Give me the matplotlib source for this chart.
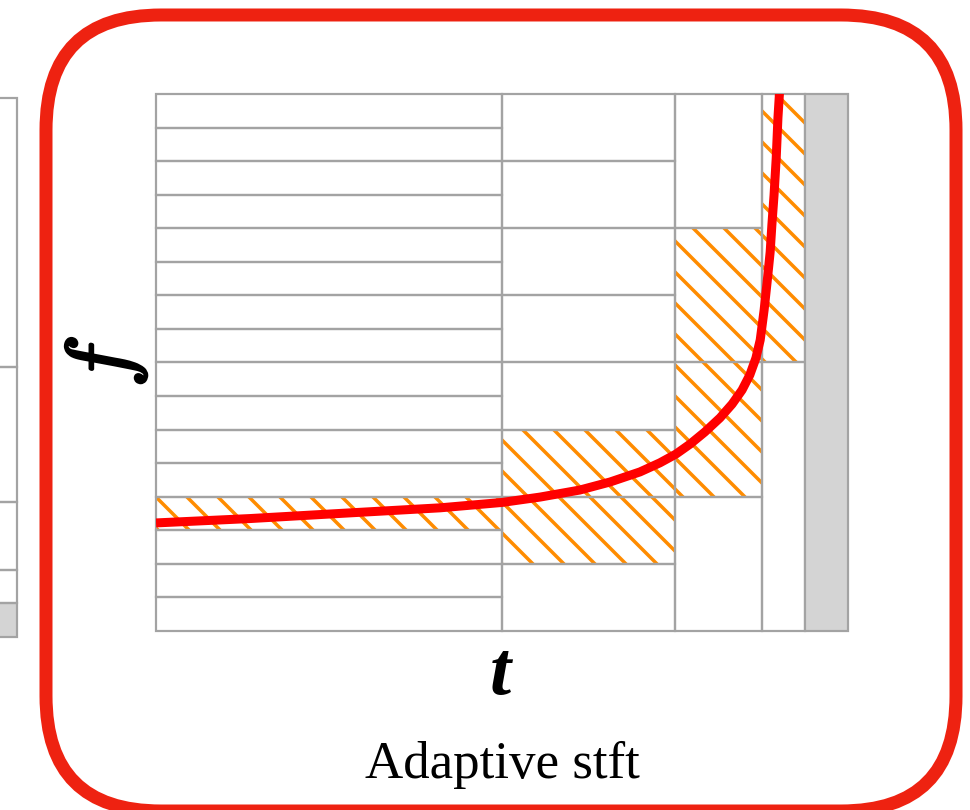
import matplotlib
matplotlib.use("Agg")
import matplotlib.pyplot as plt
import matplotlib.patheffects as pe
from matplotlib.patches import Rectangle, FancyBboxPatch

# ---- time-frequency tiling of the adaptive STFT ----
col_edges = [0, 8, 12, 14, 15]        # window boundaries along t
bands_per_col = [16, 8, 4, 2]         # frequency bands in each window
spare_col = (15, 16)                  # unused (greyed) column
f_max = 16
# tiles crossed by the chirp: column index -> band indices
hit_cells = {0: [3], 1: [1, 2], 2: [1, 2], 3: [1]}

# instantaneous frequency of the chirp
chirp_t = [0.0, 2.17, 4.49, 6.57, 8.0, 8.88, 9.8, 10.5, 11.19, 11.65, 12.02,
           12.35, 12.69, 13.04, 13.32, 13.55, 13.73, 13.87, 13.97, 14.06,
           14.13, 14.2, 14.24, 14.29, 14.34, 14.38, 14.42]
chirp_f = [3.22, 3.35, 3.52, 3.67, 3.83, 3.99, 4.2, 4.44, 4.74, 5.01, 5.27,
           5.57, 5.93, 6.35, 6.76, 7.18, 7.63, 8.13, 8.67, 9.56,
           10.4, 11.29, 12.1, 12.99, 14.09, 15.29, 16.12]

# dyadic bands of the neighbouring panel (partly off the page)
nb_band_edges = [0, 1, 2, 4, 8, 16]

# ---- styling ----
DPI = 186
W, H = 970, 810
plt.rcParams["mathtext.fontset"] = "cm"


def pt(px):
    return px * 72.0 / DPI


plt.rcParams["hatch.linewidth"] = pt(3.5)

GRID = "#a3a3a3"
ORANGE = "#ff8c00"
SPARE = "#d4d4d4"
FRAME = "#ee2211"

fig = plt.figure(figsize=((W + 0.01) / DPI, (H + 0.01) / DPI), dpi=DPI)
fig.patch.set_facecolor("white")


def frac(x0, y0, x1, y1):
    return [x0 / W, (H - y1) / H, (x1 - x0) / W, (y1 - y0) / H]


# main tiling
ax = fig.add_axes(frac(156, 94, 848, 631))
ax.set_xlim(0, 16)
ax.set_ylim(0, f_max)
ax.axis("off")

for k, n in enumerate(bands_per_col):
    t0, t1 = col_edges[k], col_edges[k + 1]
    h = f_max / n
    for j in range(n):
        if j in hit_cells.get(k, []):
            ax.add_patch(Rectangle((t0, j * h), t1 - t0, h, facecolor="none",
                                   edgecolor=ORANGE, linewidth=0, hatch="\\\\",
                                   zorder=1))
        ax.add_patch(Rectangle((t0, j * h), t1 - t0, h, facecolor="none",
                               edgecolor=GRID, linewidth=pt(2.2),
                               clip_on=False, zorder=2))

ax.add_patch(Rectangle((spare_col[0], 0), spare_col[1] - spare_col[0], f_max,
                       facecolor=SPARE, edgecolor=GRID, linewidth=pt(2.2),
                       clip_on=False, zorder=2))

ax.plot(chirp_t, chirp_f, color="#ff0000", linewidth=pt(9),
        solid_capstyle="butt", solid_joinstyle="round", zorder=3)

# neighbouring panel, cut by the page edge
axl = fig.add_axes(frac(-400, 98, 17, 637))
axl.set_xlim(0, 16)
axl.set_ylim(0, f_max)
axl.axis("off")
for lo, hi in zip(nb_band_edges[:-1], nb_band_edges[1:]):
    axl.add_patch(Rectangle((0, lo), 16, hi - lo,
                            facecolor=SPARE if lo == 0 else "none",
                            edgecolor=GRID, linewidth=pt(2.2), clip_on=False))

# rounded red frame
bg = fig.add_axes([0, 0, 1, 1], zorder=-1)
bg.set_xlim(0, W)
bg.set_ylim(H, 0)
bg.set_aspect("equal")
bg.axis("off")
bg.add_patch(FancyBboxPatch((46, 15), 956 - 46, 811 - 15,
                            boxstyle="round,pad=0,rounding_size=115",
                            facecolor="none", edgecolor=FRAME,
                            linewidth=pt(13)))

# labels
fig.text(106 / W, 1 - 362 / H, r"$f$", fontsize=pt(90), rotation=90,
         ha="center", va="center",
         path_effects=[pe.withStroke(linewidth=pt(2.5), foreground="black")])
fig.text(500 / W, 1 - 694 / H, "t", fontsize=pt(76), family="Liberation Serif",
         weight="bold", style="italic", ha="center", va="baseline")
fig.text(502 / W, 1 - 778 / H, "Adaptive stft", fontsize=pt(53),
         family="Liberation Serif", ha="center", va="baseline")

fig.savefig("out.png", dpi=DPI, facecolor="white")
